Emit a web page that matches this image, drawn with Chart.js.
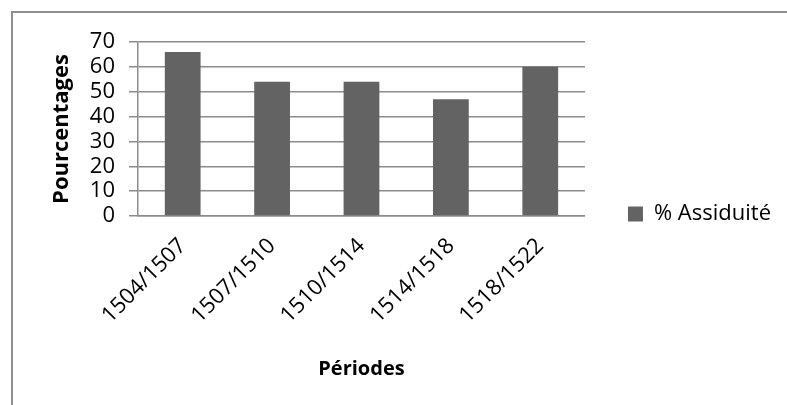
<!DOCTYPE html>
<html>
<head>
<meta charset="utf-8">
<script src="https://cdn.jsdelivr.net/npm/chart.js@4/dist/chart.umd.min.js"></script>
<style>
  html, body { margin: 0; padding: 0; background: #ffffff; }
  #wrap { position: relative; width: 787px; height: 405px; overflow: hidden; background: #fff; }
  #frame { position: absolute; left: 11px; top: 11px; width: 800px; height: 420px;
           border-top: 2px solid #8f8f8f; border-left: 2px solid #8f8f8f; box-sizing: border-box; }
  canvas { position: absolute; left: 0; top: 0; }
</style>
</head>
<body>
<div id="wrap">
  <div id="frame"></div>
  <canvas id="c" width="787" height="405"></canvas>
</div>
<script>
const categories = ["1504/1507", "1507/1510", "1510/1514", "1514/1518", "1518/1522"];
const assiduite = [66, 54, 54, 47, 60];
const seriesName = "% Assiduité";
const xTitle = "Périodes";
const yTitle = "Pourcentages";
const yMin = 0, yMax = 70, yStep = 10;

const FONT = "'Open Sans', 'Noto Sans', sans-serif";
const GRID = "#8c8c8c";
const BAR = "#636363";

new Chart(document.getElementById("c"), {
  type: "bar",
  data: {
    labels: categories,
    datasets: [{
      label: seriesName,
      data: assiduite,
      backgroundColor: BAR,
      borderWidth: 0,
      categoryPercentage: 0.8,
      barPercentage: 0.5
    }]
  },
  options: {
    responsive: false,
    animation: false,
    layout: { padding: { left: 40, top: 42, right: 6, bottom: 19 } },
    plugins: {
      tooltip: { enabled: false },
      legend: {
        position: "right",
        align: "center",
        maxWidth: 300,
        labels: {
          boxWidth: 15, boxHeight: 15, padding: 10,
          color: "#000", font: { family: FONT, size: 22 }
        }
      }
    },
    scales: {
      x: {
        grid: { display: false, drawTicks: false },
        border: { display: true, color: GRID, width: 1.5 },
        ticks: {
          color: "#000", font: { family: FONT, size: 22 },
          minRotation: 45, maxRotation: 45, autoSkip: false, padding: 17
        },
        title: { display: true, text: xTitle, color: "#000",
                 font: { family: FONT, size: 20, weight: "bold" }, padding: { top: 0, bottom: 5 } },
        afterFit: s => { s.height = 170; }
      },
      y: {
        min: yMin, max: yMax,
        ticks: { stepSize: yStep, autoSkip: false, color: "#000",
                 font: { family: FONT, size: 22, lineHeight: 1 }, padding: 14 },
        grid: { color: GRID, lineWidth: 1.5, tickLength: 9, drawTicks: true },
        border: { display: true, color: GRID, width: 1.5 },
        title: { display: true, text: yTitle, color: "#000",
                 font: { family: FONT, size: 22, weight: "bold" }, padding: { top: 9, bottom: 0 } },
        afterFit: s => { s.width = 98; }
      },
      yR: {
        type: "linear", position: "right", display: true,
        grid: { display: false, drawTicks: false },
        border: { display: false },
        ticks: { display: false },
        afterFit: s => { s.width = 33; }
      }
    }
  }
});
</script>
</body>
</html>
